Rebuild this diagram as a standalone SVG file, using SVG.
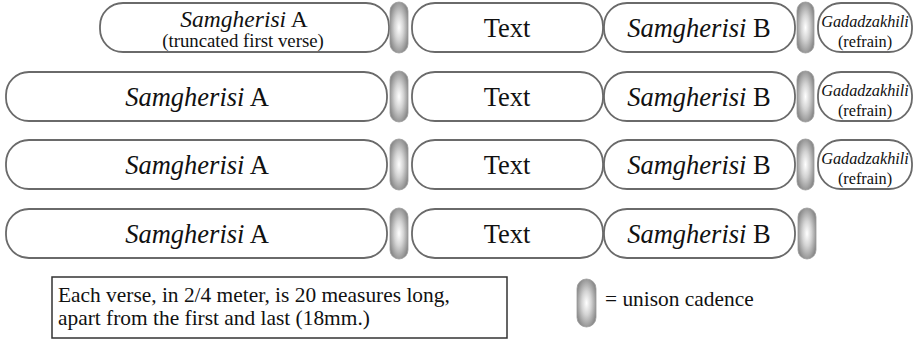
<svg xmlns="http://www.w3.org/2000/svg" width="915" height="342" viewBox="0 0 915 342">
<defs>
<radialGradient id="cad" cx="50%" cy="50%" r="55%">
<stop offset="0" stop-color="#ffffff"/>
<stop offset="0.45" stop-color="#d4d4d4"/>
<stop offset="1" stop-color="#8a8a8a"/>
</radialGradient>
<style>
.pill{fill:#fff;stroke:#6a6a6a;stroke-width:1.8}
.cad{fill:url(#cad);stroke:#9a9a9a;stroke-width:0.8}
.t{font-family:'Liberation Serif','Times New Roman',serif;fill:#111;text-anchor:middle}
.big{font-size:26.5px}
.big1{font-size:23.5px}
.it{font-style:italic}
.sub{font-size:18.8px}
.ref{font-size:16.3px}
.leg{font-size:21.4px;text-anchor:start}
</style>
</defs>
<rect width="915" height="342" fill="#fff"/>
<g id="connectors"/>
<!-- Row 1 -->
<g id="r1-A"><rect class="pill" x="100" y="3" width="289" height="49" rx="23"/><text class="t big1" x="244" y="27"><tspan class="it">Samgherisi</tspan> A</text><text class="t sub" x="243" y="47">(truncated first verse)</text></g>
<g id="r1-cad1"><rect class="cad" x="390" y="2" width="18" height="51" rx="9"/></g>
<g id="r1-text"><rect class="pill" x="412" y="3" width="191" height="49" rx="23"/><text class="t big" x="507" y="37">Text</text></g>
<g id="r1-B"><rect class="pill" x="604" y="3" width="191" height="49" rx="23"/><text class="t big" x="699" y="37"><tspan class="it">Samgherisi</tspan> B</text></g>
<g id="r1-cad2"><rect class="cad" x="797" y="2" width="17" height="51" rx="8.5"/></g>
<g id="r1-ref"><rect class="pill" x="818" y="3" width="94" height="49" rx="23"/><text class="t ref it" x="865" y="27">Gadadzakhili</text><text class="t ref" x="865" y="47">(refrain)</text></g>

<!-- Row 2 -->
<g id="r2-A"><rect class="pill" x="6" y="72" width="381" height="49" rx="23"/><text class="t big" x="197" y="106"><tspan class="it">Samgherisi</tspan> A</text></g>
<g id="r2-cad1"><rect class="cad" x="390" y="71" width="18" height="51" rx="9"/></g>
<g id="r2-text"><rect class="pill" x="412" y="72" width="191" height="49" rx="23"/><text class="t big" x="507" y="106">Text</text></g>
<g id="r2-B"><rect class="pill" x="604" y="72" width="191" height="49" rx="23"/><text class="t big" x="699" y="106"><tspan class="it">Samgherisi</tspan> B</text></g>
<g id="r2-cad2"><rect class="cad" x="797" y="71" width="17" height="51" rx="8.5"/></g>
<g id="r2-ref"><rect class="pill" x="818" y="72" width="94" height="49" rx="23"/><text class="t ref it" x="865" y="96">Gadadzakhili</text><text class="t ref" x="865" y="116">(refrain)</text></g>

<!-- Row 3 -->
<g id="r3-A"><rect class="pill" x="6" y="140" width="381" height="49" rx="23"/><text class="t big" x="197" y="174"><tspan class="it">Samgherisi</tspan> A</text></g>
<g id="r3-cad1"><rect class="cad" x="390" y="139" width="18" height="51" rx="9"/></g>
<g id="r3-text"><rect class="pill" x="412" y="140" width="191" height="49" rx="23"/><text class="t big" x="507" y="174">Text</text></g>
<g id="r3-B"><rect class="pill" x="604" y="140" width="191" height="49" rx="23"/><text class="t big" x="699" y="174"><tspan class="it">Samgherisi</tspan> B</text></g>
<g id="r3-cad2"><rect class="cad" x="797" y="139" width="17" height="51" rx="8.5"/></g>
<g id="r3-ref"><rect class="pill" x="818" y="140" width="94" height="49" rx="23"/><text class="t ref it" x="865" y="164">Gadadzakhili</text><text class="t ref" x="865" y="184">(refrain)</text></g>

<!-- Row 4 -->
<g id="r4-A"><rect class="pill" x="6" y="209" width="381" height="49" rx="23"/><text class="t big" x="197" y="243"><tspan class="it">Samgherisi</tspan> A</text></g>
<g id="r4-cad1"><rect class="cad" x="390" y="208" width="18" height="51" rx="9"/></g>
<g id="r4-text"><rect class="pill" x="412" y="209" width="191" height="49" rx="23"/><text class="t big" x="507" y="243">Text</text></g>
<g id="r4-B"><rect class="pill" x="604" y="209" width="191" height="49" rx="23"/><text class="t big" x="699" y="243"><tspan class="it">Samgherisi</tspan> B</text></g>
<g id="r4-cad2"><rect class="cad" x="798" y="208" width="18" height="51" rx="9"/></g>

<!-- Legend -->
<g id="note"><rect x="52" y="277" width="455" height="61" fill="#fff" stroke="#333" stroke-width="1.5"/><text class="t leg" x="58" y="302">Each verse, in 2/4 meter, is 20 measures long,</text><text class="t leg" x="58" y="325">apart from the first and last (18mm.)</text></g>
<g id="legend-cad"><rect class="cad" x="577" y="279" width="19" height="48" rx="9.5"/><text class="t leg" x="605" y="306">= unison cadence</text></g>
</svg>
